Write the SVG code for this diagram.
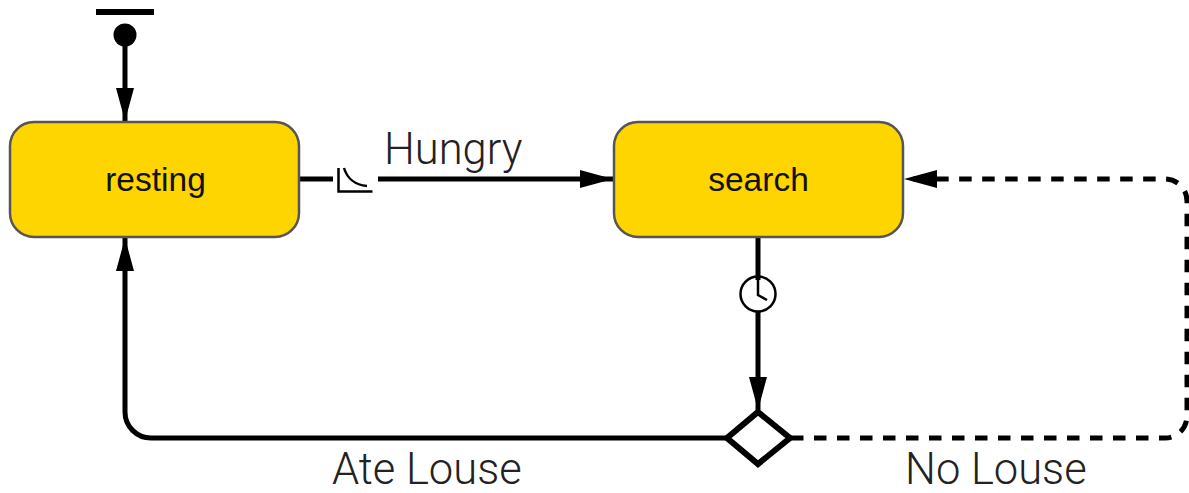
<svg xmlns="http://www.w3.org/2000/svg" width="1189" height="493" viewBox="0 0 1189 493">
<style>
.st{fill:#FFD500;stroke:#555;stroke-width:2.5}
.lb{font-family:"Liberation Sans",Arial,sans-serif;fill:#111}
.nm{font-size:33.500px;text-anchor:middle}
.tr{font-family:Roboto,"Liberation Sans",sans-serif;font-size:43.500px;font-weight:300;fill:#222}
.c{fill:none;stroke:#000;stroke-width:5}
.d{stroke-dasharray:12.500 10.500}
.t{fill:none;stroke:#000;stroke-width:2.500}
</style>
<defs>
<marker id="a" markerUnits="userSpaceOnUse" markerWidth="34" markerHeight="18" refX="33" refY="9" orient="auto"><path d="M0 0L33 9L0 18Z" fill="#000"/></marker>
</defs>
<rect width="1189" height="493" fill="#fff"/>
<g id="connectors">
<path class="c" marker-end="url(#a)" d="M125 40V121"/>
<path class="c" d="M299 179H333"/>
<path class="c" marker-end="url(#a)" d="M378 179H613"/>
<path class="c" d="M758 238V280"/>
<path class="c" marker-end="url(#a)" d="M758 312V410"/>
<path class="c" marker-end="url(#a)" d="M727 438H151A26 26 0 0 1 125 412V238"/>
<path class="c d" marker-end="url(#a)" d="M791 438H1165A22 22 0 0 0 1187 416V201A22 22 0 0 0 1165 179H904"/>
</g>
<g id="initial">
<rect x="96" y="9" width="58" height="6" fill="#000"/>
<circle cx="125" cy="35" r="11.500" fill="#000"/>
</g>
<g id="resting">
<rect class="st" x="10" y="122" width="289" height="115" rx="24"/>
<text class="lb nm" x="155.500" y="191">resting</text>
</g>
<g id="search">
<rect class="st" x="614" y="122" width="289" height="115" rx="24"/>
<text class="lb nm" x="758.500" y="191">search</text>
</g>
<g id="rate-icon">
<path class="t" d="M338.500 168V191.500H372.500"/>
<path class="t" d="M344 168C347 178 355 185 367 186"/>
</g>
<g id="clock">
<circle class="t" cx="758" cy="294" r="17.500" fill="#fff"/>
<path class="t" d="M758 280V295L767 300"/>
</g>
<g id="decision">
<path d="M758 412L790 438L758 464L727 438Z" fill="#fff" stroke="#000" stroke-width="6"/>
</g>
<g id="labels">
<text class="tr" x="384" y="164">Hungry</text>
<text class="tr" x="332" y="484">Ate Louse</text>
<text class="tr" x="905" y="484">No Louse</text>
</g>
</svg>
